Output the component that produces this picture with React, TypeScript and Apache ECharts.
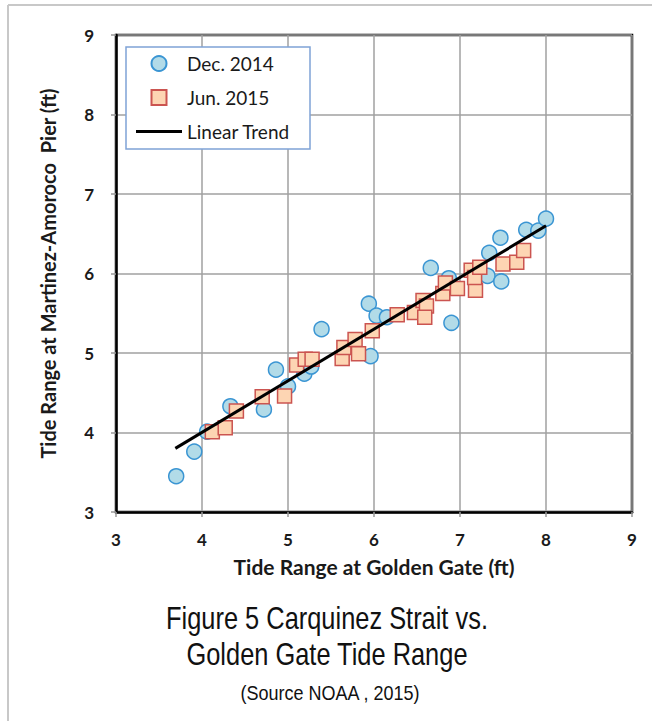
import React, { useEffect, useRef } from "react";
import * as echarts from "echarts";

const decX = [3.70, 3.91, 4.06, 4.33, 4.72, 4.86, 5.00, 5.19, 5.27, 5.39, 5.94, 5.96, 6.03, 6.15, 6.66, 6.87, 6.90, 7.32, 7.34, 7.47, 7.48, 7.77, 7.91, 8.00];
const decY = [3.45, 3.76, 4.01, 4.33, 4.29, 4.79, 4.58, 4.74, 4.83, 5.30, 5.62, 4.96, 5.47, 5.45, 6.07, 5.94, 5.38, 5.97, 6.26, 6.45, 5.90, 6.55, 6.54, 6.69];

const junX = [4.12, 4.27, 4.40, 4.70, 4.96, 5.10, 5.20, 5.28, 5.63, 5.65, 5.78, 5.82, 5.98, 6.27, 6.47, 6.57, 6.61, 6.59, 6.80, 6.83, 6.97, 7.13, 7.18, 7.17, 7.23, 7.50, 7.66, 7.74];
const junY = [4.01, 4.06, 4.27, 4.45, 4.46, 4.85, 4.92, 4.92, 4.93, 5.07, 5.17, 4.99, 5.28, 5.48, 5.51, 5.66, 5.59, 5.45, 5.75, 5.88, 5.81, 6.04, 5.79, 5.95, 6.08, 6.12, 6.14, 6.29];

const trendX = [3.69, 8.0];
const trendY = [3.80, 6.60];

const seriesNames = ["Dec. 2014", "Jun. 2015", "Linear Trend"];
const xAxisName = "Tide Range at Golden Gate (ft)";
const yAxisName = "Tide Range at Martinez-Amoroco  Pier (ft)";
const titleLine1 = "Figure 5 Carquinez Strait vs.";
const titleLine2 = "Golden Gate Tide Range";
const sourceText = "(Source NOAA , 2015)";

const zip = (xs: number[], ys: number[]) => xs.map((x, i) => [x, ys[i]]);

const axisFont = "Lato, 'Open Sans', sans-serif";
const capFont = "'Liberation Sans', Arial, sans-serif";

export default function App() {
  const ref = useRef<HTMLDivElement>(null);
  useEffect(() => {
    document.body.style.margin = "0";
    const chart = echarts.init(ref.current!, null, { renderer: "svg" });
    const capText = (text: string, x: number, y: number, size: number, sx: number) => ({
      type: "text",
      x,
      y,
      scaleX: sx,
      silent: true,
      style: {
        text,
        fontFamily: capFont,
        fontSize: size,
        fill: "#111",
        textAlign: "center",
        textVerticalAlign: "middle",
      },
    });
    const option = {
      animation: false,
      backgroundColor: "#ffffff",
      grid: {
        left: 116,
        right: 20,
        top: 35,
        bottom: 209,
        show: true,
        borderColor: "#000",
        borderWidth: 2.5,
        backgroundColor: "transparent",
      },
      legend: {
        orient: "vertical",
        left: 126,
        top: 47,
        padding: [7, 10, 10, 10],
        itemWidth: 46,
        itemHeight: 15,
        itemGap: 15,
        symbolKeepAspect: true,
        data: [
          { name: seriesNames[0], icon: "circle" },
          { name: seriesNames[1], icon: "path://M0,0L10,0L10,10L0,10Z" },
          { name: seriesNames[2], icon: "path://M0,0L46,0L46,3L0,3Z" },
        ],
        textStyle: { fontFamily: axisFont, fontSize: 19, lineHeight: 16, color: "#1a1a1a" },
        z: 10,
      },
      xAxis: {
        type: "value",
        min: 3,
        max: 9,
        interval: 1,
        name: xAxisName,
        nameLocation: "middle",
        nameGap: 44,
        nameTextStyle: { fontFamily: axisFont, fontWeight: "bold", fontSize: 21, color: "#1a1a1a" },
        axisLine: { show: true, onZero: false, lineStyle: { color: "#000", width: 2.5 } },
        axisTick: { show: true, inside: false, length: 5, lineStyle: { color: "#999", width: 1.5 } },
        axisLabel: { margin: 19, fontFamily: axisFont, fontWeight: "bold", fontSize: 17, color: "#1a1a1a" },
        splitLine: { show: true, lineStyle: { color: "#a0a0a0", width: 1.5 } },
      },
      yAxis: {
        type: "value",
        min: 3,
        max: 9,
        interval: 1,
        name: yAxisName,
        nameLocation: "middle",
        nameGap: 58,
        nameTextStyle: { fontFamily: axisFont, fontWeight: "bold", fontSize: 20, color: "#1a1a1a" },
        axisLine: { show: true, onZero: false, lineStyle: { color: "#000", width: 2.5 } },
        axisTick: { show: true, inside: false, length: 5, lineStyle: { color: "#999", width: 1.5 } },
        axisLabel: { margin: 22, fontFamily: axisFont, fontWeight: "bold", fontSize: 17, color: "#1a1a1a" },
        splitLine: { show: true, lineStyle: { color: "#a0a0a0", width: 1.5 } },
      },
      graphic: [
        {
          type: "line",
          shape: { x1: 8, y1: 5, x2: 652, y2: 5 },
          style: { stroke: "#c8c8c8", lineWidth: 2 },
          silent: true,
        },
        {
          type: "line",
          shape: { x1: 8, y1: 5, x2: 8, y2: 721 },
          style: { stroke: "#c8c8c8", lineWidth: 2 },
          silent: true,
        },
        {
          type: "rect",
          shape: { x: 126, y: 47, width: 184, height: 102 },
          style: { fill: "#ffffff", stroke: "#7fa3d6", lineWidth: 1.5 },
          z: 5,
          silent: true,
        },
        capText(titleLine1, 327, 618, 31, 0.82),
        capText(titleLine2, 327, 654, 31, 0.82),
        capText(sourceText, 330, 693, 20, 0.9),
      ],
      series: [
        {
          name: seriesNames[0],
          type: "scatter",
          symbol: "circle",
          symbolSize: 15,
          data: zip(decX, decY),
          itemStyle: { color: "#b2dbe8", borderColor: "#3a95d3", borderWidth: 1.5, opacity: 1 },
          z: 2,
        },
        {
          name: seriesNames[1],
          type: "scatter",
          symbol: "rect",
          symbolSize: 14,
          data: zip(junX, junY),
          itemStyle: { color: "#fdd5b3", borderColor: "#cb5450", borderWidth: 1.5, opacity: 1 },
          z: 3,
        },
        {
          name: seriesNames[2],
          type: "line",
          symbol: "none",
          data: zip(trendX, trendY),
          lineStyle: { color: "#000", width: 3 },
          itemStyle: { color: "#000" },
          z: 4,
        },
      ],
    };
    chart.setOption(option as any);
    return () => chart.dispose();
  }, []);
  return <div ref={ref} style={{ width: 652, height: 721 }} />;
}
